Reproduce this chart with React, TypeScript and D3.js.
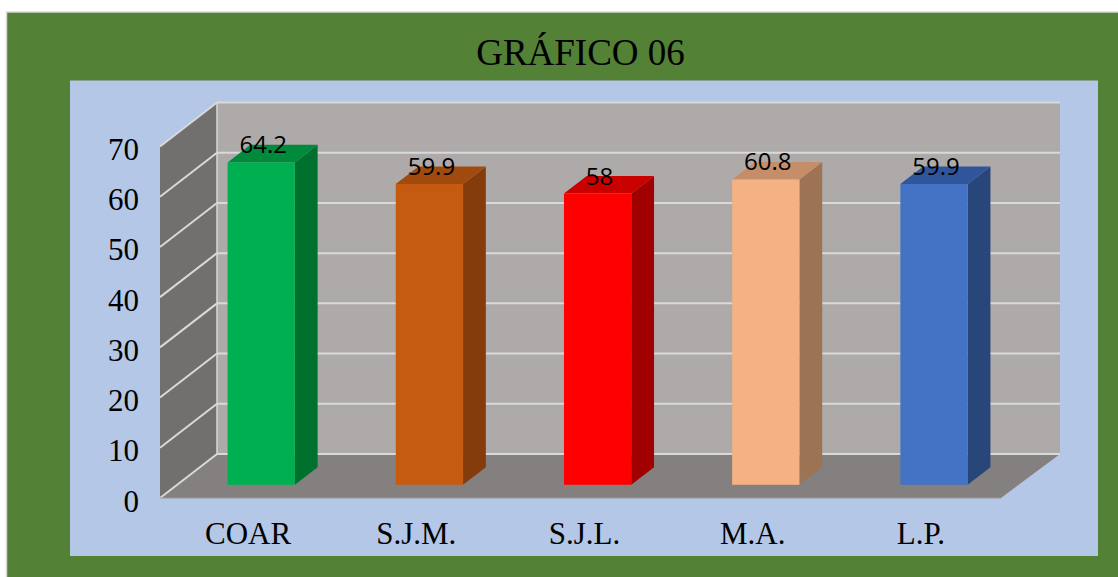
import React, { useEffect, useRef } from 'react';
import * as d3 from 'd3';

const categories = ['COAR', 'S.J.M.', 'S.J.L.', 'M.A.', 'L.P.'];
const values = [64.2, 59.9, 58, 60.8, 59.9];
const valueLabels = ['64.2', '59.9', '58', '60.8', '59.9'];
const yTicks = [0, 10, 20, 30, 40, 50, 60, 70];
const frontColors = ['#00B050', '#C55A11', '#FF0000', '#F4B183', '#4472C4'];
const topColors = ['#008A3C', '#A14A0E', '#C80000', '#C68E68', '#30559A'];
const sideColors = ['#00702F', '#843C0C', '#A00000', '#9C7455', '#284679'];
const title = 'GRÁFICO 06';

const W = 1118, H = 577;

export default function App() {
	const svgRef = useRef<SVGSVGElement>(null);

	useEffect(() => {
		const svg = d3.select(svgRef.current);
		svg.selectAll('*').remove();

		// depth of the 3D box
		const DX = 57, DY = 44;
		const x = d3.scaleBand<string>().domain(categories).range([160, 1001]).padding(0);
		const y = d3.scaleLinear().domain([0, 70]).range([498, 146.5]);
		const serif = '"Liberation Serif", "Times New Roman", serif';

		// frame + plot background
		svg.append('rect').attr('x', 6.5).attr('y', 12).attr('width', W).attr('height', H)
			.attr('fill', '#538135').attr('stroke', '#d9d9d9').attr('stroke-width', 1.5);
		svg.append('rect').attr('x', 70).attr('y', 80.5).attr('width', 1028).attr('height', 475.5)
			.attr('fill', '#B4C7E7');

		svg.append('text').attr('x', 580.5).attr('y', 65).attr('text-anchor', 'middle')
			.attr('font-family', serif).attr('font-size', 37)
			.attr('fill', '#000').text(title);

		const x0 = x.range()[0], x1 = x.range()[1];
		const yTop = y(70), y0 = y(0);

		// back wall
		svg.append('rect').attr('x', x0 + DX).attr('y', yTop - DY).attr('width', x1 - x0 + 2)
			.attr('height', y0 - yTop).attr('fill', '#AEAAAA');
		// left side wall
		svg.append('polygon')
			.attr('points', [[x0, yTop], [x0 + DX, yTop - DY], [x0 + DX, y0 - DY], [x0, y0]].join(' '))
			.attr('fill', '#726F6F');
		// floor
		svg.append('polygon')
			.attr('points', [[x0, y0], [x0 + DX, y0 - DY], [x1 + DX + 2, y0 - DY], [x1, y0]].join(' '))
			.attr('fill', '#858080');

		// gridlines
		const grid = svg.append('g').attr('stroke', '#D9D9D9').attr('stroke-width', 2).attr('fill', 'none');
		yTicks.forEach(t => {
			grid.append('line').attr('x1', x0 + DX).attr('x2', x1 + DX + 2)
				.attr('y1', y(t) - DY).attr('y2', y(t) - DY);
			grid.append('line').attr('x1', x0).attr('x2', x0 + DX)
				.attr('y1', y(t)).attr('y2', y(t) - DY);
		});
		grid.append('line').attr('x1', x0 + DX).attr('x2', x0 + DX)
			.attr('y1', yTop - DY).attr('y2', y0 - DY).attr('stroke-width', 1.5);
		svg.append('line').attr('x1', x0).attr('x2', x1).attr('y1', y0).attr('y2', y0)
			.attr('stroke', '#9a9696').attr('stroke-width', 1);

		// bars sit between 30% and 70% of the depth
		const fx = 0.3 * DX, fy = 0.3 * DY;
		const bx = 0.4 * DX, by = 0.4 * DY;
		const bw = x.bandwidth() * 0.4;

		const bars = svg.append('g');
		categories.forEach((c, i) => {
			const cx = x(c)! + x.bandwidth() / 2 + fx;
			const l = cx - bw / 2, r = cx + bw / 2;
			const yt = y(values[i]) - fy, yb = y(0) - fy;
			bars.append('polygon')
				.attr('points', [[r, yt], [r + bx, yt - by], [r + bx, yb - by], [r, yb]].join(' '))
				.attr('fill', sideColors[i]);
			bars.append('polygon')
				.attr('points', [[l, yt], [l + bx, yt - by], [r + bx, yt - by], [r, yt]].join(' '))
				.attr('fill', topColors[i]);
			bars.append('rect').attr('x', l).attr('y', yt).attr('width', bw).attr('height', yb - yt)
				.attr('fill', frontColors[i]);
			bars.append('text').attr('x', cx + 2).attr('y', yt - 9).attr('text-anchor', 'middle')
				.attr('font-family', '"Open Sans", "Noto Sans", sans-serif').attr('font-size', 24)
				.attr('fill', '#000').text(valueLabels[i]);
		});

		// y axis labels
		svg.append('g').selectAll('text').data(yTicks).enter().append('text')
			.attr('x', 139).attr('y', d => y(d) + 13.5).attr('text-anchor', 'end')
			.attr('font-family', serif).attr('font-size', 31)
			.attr('fill', '#000').text(d => d);

		// category labels
		svg.append('g').selectAll('text').data(categories).enter().append('text')
			.attr('x', d => x(d)! + x.bandwidth() / 2 + 4).attr('y', 544).attr('text-anchor', 'middle')
			.attr('font-family', serif).attr('font-size', 31)
			.attr('fill', '#000').text(d => d);
	}, []);

	return (
		<svg ref={svgRef} width={W} height={H}
			style={{ position: 'absolute', left: 0, top: 0, background: '#fff' }} />
	);
}
